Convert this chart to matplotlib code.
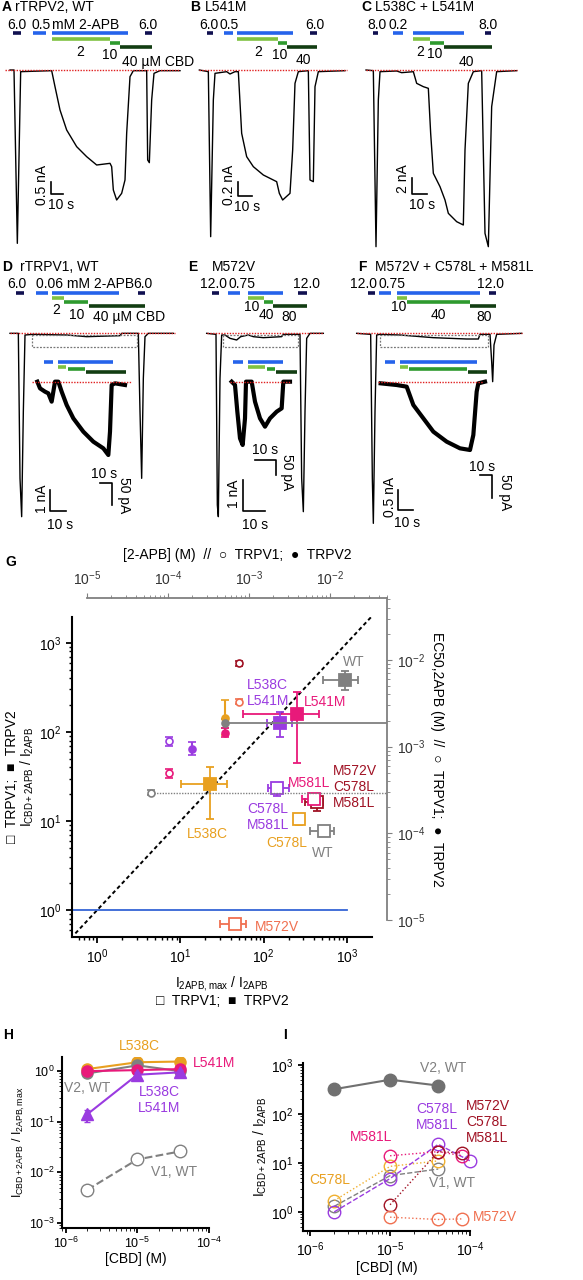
import numpy as np
import matplotlib
matplotlib.use('Agg')
import matplotlib.pyplot as plt

plt.rcParams['font.family'] = ['Liberation Sans', 'DejaVu Sans']
plt.rcParams['mathtext.fontset'] = 'custom'
plt.rcParams['mathtext.rm'] = 'Liberation Sans'
plt.rcParams['mathtext.it'] = 'Liberation Sans'

NAVY, BLUE, LG, MG, DG = '#101050', '#2563EB', '#7FC241', '#2E9A2E', '#123D12'
GRAY, ORA, PINK, PUR, DRED, SAL = '#808080', '#E8A020', '#E8197A', '#9A3BE0', '#A01224', '#F07050'

# ---------------- trace data (panel pixel units of the recording) ----------------
trA = [(30,210),(42,210),(52,730),(62,215),(155,212),(165,260),(180,330),(200,390),(230,440),(260,470),(290,495),(330,490),(335,500),(340,570),(350,600),(365,580),(375,540),(380,400),(390,230),(400,212),(440,212),(443,480),(448,488),(455,300),(462,220),(480,212),(540,212)]
trB = [(598,210),(625,215),(632,710),(640,300),(645,220),(680,215),(690,222),(705,215),(715,215),(725,400),(740,470),(760,500),(790,525),(830,545),(838,580),(848,600),(870,580),(878,450),(885,250),(895,215),(925,212),(930,540),(940,545),(945,260),(955,215),(1035,212)]
trC = [(1098,210),(1120,212),(1128,740),(1135,300),(1140,215),(1190,213),(1205,218),(1240,215),(1250,250),(1270,260),(1285,265),(1292,400),(1300,520),(1320,560),(1335,600),(1345,640),(1370,665),(1390,675),(1395,450),(1405,250),(1420,215),(1445,212),(1455,700),(1465,740),(1475,320),(1490,215),(1550,212)]
trD = [(30,265),(55,265),(60,700),(65,815),(70,500),(75,270),(100,268),(200,270),(260,275),(360,272),(365,265),(415,265),(420,500),(425,700),(430,400),(435,275),(445,265),(520,265)]
trDi = [(112,410),(120,430),(135,440),(145,445),(155,470),(165,410),(175,410),(185,440),(200,480),(220,520),(250,560),(280,590),(310,610),(325,630),(330,560),(335,420),(345,415),(375,420)]
trE = [(620,265),(648,268),(652,780),(655,815),(660,400),(665,270),(675,270),(690,280),(710,285),(722,275),(745,270),(760,275),(790,278),(845,275),(850,268),(900,268),(905,700),(910,800),(915,500),(920,280),(930,265),(970,265)]
trEi = [(695,410),(705,420),(712,500),(720,580),(728,600),(735,520),(738,410),(755,410),(765,470),(780,520),(795,545),(810,520),(830,500),(845,490),(850,410),(870,410)]
trF = [(1070,265),(1112,268),(1117,700),(1120,835),(1125,500),(1130,270),(1140,268),(1200,270),(1300,278),(1400,282),(1435,282),(1440,268),(1470,268),(1475,350),(1478,410),(1482,300),(1490,268),(1565,265)]
trFi = [(1142,415),(1190,420),(1220,425),(1240,480),(1270,520),(1300,560),(1340,590),(1380,610),(1410,615),(1420,570),(1430,440),(1435,415),(1455,410)]

# application bars: (x0, x1, y, colour)
barsA = [(40,62,100,NAVY),(435,455,100,NAVY),(98,138,100,BLUE),(155,383,100,BLUE),(155,330,118,LG),(330,360,128,MG),(360,455,140,DG)]
barsB = [(620,640,100,NAVY),(930,950,100,NAVY),(672,700,100,BLUE),(712,878,100,BLUE),(712,835,118,LG),(835,860,128,MG),(860,950,140,DG)]
barsC = [(1118,1135,100,NAVY),(1455,1472,100,NAVY),(1180,1208,100,BLUE),(1240,1392,100,BLUE),(1240,1290,118,LG),(1290,1333,128,MG),(1333,1475,140,DG)]
barsD = [(48,72,143,NAVY),(415,435,143,NAVY),(108,145,143,BLUE),(155,357,143,BLUE),(155,192,158,LG),(192,265,170,MG),(268,435,183,DG),
         (132,158,352,BLUE),(175,338,352,BLUE),(175,198,366,LG),(205,255,373,MG),(258,378,381,DG)]
barsE = [(635,658,143,NAVY),(895,922,143,NAVY),(685,720,143,BLUE),(745,848,143,BLUE),(745,792,158,LG),(792,820,170,MG),(820,922,183,DG),
         (700,730,352,BLUE),(745,848,352,BLUE),(745,795,366,LG),(800,825,373,MG),(828,890,381,DG)]
barsF = [(1105,1125,143,NAVY),(1468,1488,143,NAVY),(1138,1172,143,BLUE),(1190,1440,143,BLUE),(1190,1220,158,LG),(1222,1410,170,MG),(1410,1488,183,DG),
         (1155,1185,352,BLUE),(1200,1430,352,BLUE),(1200,1225,366,LG),(1228,1400,373,MG),(1405,1460,381,DG)]

fig = plt.figure(figsize=(5.83, 12.8), dpi=100)
ov = fig.add_axes([0, 0, 1, 1])
ov.set_xlim(0, 583); ov.set_ylim(1280, 0); ov.axis('off')

def P(pts, oy):
    return [p[0]/3 for p in pts], [oy + p[1]/3 for p in pts]

def trace(pts, oy, lw=1.0):
    x, y = P(pts, oy); ov.plot(x, y, color='black', lw=lw)

def bars(bl, oy):
    for x0, x1, y, c in bl:
        ov.plot([x0/3, x1/3], [oy+y/3]*2, color=c, lw=2.6, solid_capstyle='butt')

def base(x0, x1, y, oy):
    ov.plot([x0/3, x1/3], [oy+y/3]*2, color='#E02020', lw=1.0, ls=(0, (1, 1)))

def txt(s, x, y, oy, **kw):
    kw.setdefault('fontsize', 10)
    ov.text(x/3, oy+y/3, s, **kw)

def scalebar(xv, y0, y1, xh, oy, lw=1.2):
    ov.plot([xv/3, xv/3, xh/3], [oy+y0/3, oy+y1/3, oy+y1/3], color='black', lw=lw)

# Row 1
for tr in (trA, trB, trC): trace(tr, 0)
for b in (barsA, barsB, barsC): bars(b, 0)
base(15, 540, 210, 0); base(598, 1040, 210, 0); base(1098, 1550, 210, 0)
c = dict(ha='center', va='center')
for s, x in (('6.0',50),('6.0',443),('6.0',628),('0.5',688),('6.0',945),('8.0',1130),('0.2',1195),('8.0',1465)):
    txt(s, x, 75, 0, **c)
txt('mM 2-APB', 155, 75, 0, ha='left', va='center')
txt('0.5', 123, 75, 0, **c)
for s, x, y in (('2',240,155),('10',330,165),('2',775,155),('10',838,165),('40',910,180),('2',1262,155),('10',1305,162),('40',1400,185)):
    txt(s, x, y, 0, **c)
txt('40 µM CBD', 365, 185, 0, ha='left', va='center')
txt('A', 5, 22, 0, fontweight='bold', va='center'); txt('rTRPV2, WT', 45, 22, 0, va='center')
txt('B', 570, 22, 0, fontweight='bold', va='center'); txt('L541M', 615, 22, 0, va='center')
txt('C', 1085, 22, 0, fontweight='bold', va='center'); txt('L538C + L541M', 1125, 22, 0, va='center')
scalebar(152, 545, 582, 190, 0); txt('0.5 nA', 125, 555, 0, rotation=90, **c); txt('10 s', 182, 615, 0, **c)
scalebar(715, 545, 588, 755, 0); txt('0.2 nA', 688, 555, 0, rotation=90, **c); txt('10 s', 740, 620, 0, **c)
scalebar(1235, 535, 582, 1282, 0); txt('2 nA', 1208, 535, 0, rotation=90, **c); txt('10 s', 1265, 615, 0, **c)

# Row 2
o2 = 245
for tr in (trD, trE, trF): trace(tr, o2)
for tr in (trDi, trEi, trFi): trace(tr, o2, lw=3.0)
for b in (barsD, barsE, barsF): bars(b, o2)
base(30, 525, 265, o2); base(620, 970, 265, o2); base(1070, 1565, 265, o2)
base(95, 395, 410, o2); base(690, 870, 410, o2); base(1135, 1450, 410, o2)
for x0, x1 in ((97,410),(670,895),(1140,1465)):
    ov.plot([x0/3, x1/3, x1/3, x0/3, x0/3], [o2+270/3, o2+270/3, o2+305/3, o2+305/3, o2+270/3], color='#777777', lw=0.9, ls=(0, (1.5, 1.2)))
for s, x in (('6.0',52),('6.0',428),('12.0',640),('0.75',725),('12.0',918),('12.0',1090),('0.75',1175),('12.0',1470)):
    txt(s, x, 118, o2, **c)
txt('0.06 mM 2-APB', 108, 118, o2, ha='left', va='center')
for s, x, y in (('2',170,195),('10',230,210),('10',755,185),('40',800,210),('80',868,215),('10',1195,185),('40',1315,210),('80',1452,215)):
    txt(s, x, y, o2, **c)
txt('40 µM CBD', 280, 215, o2, ha='left', va='center')
txt('D', 5, 65, o2, fontweight='bold', va='center'); txt('rTRPV1, WT', 60, 65, o2, va='center')
txt('E', 565, 65, o2, fontweight='bold', va='center'); txt('M572V', 635, 65, o2, va='center')
txt('F', 1075, 65, o2, fontweight='bold', va='center'); txt('M572V + C578L + M581L', 1125, 65, o2, va='center')
# scale bars row2
ov.plot([300/3, 335/3, 335/3], [o2+715/3, o2+715/3, o2+780/3], color='black', lw=1.2)
txt('10 s', 313, 688, o2, **c); txt('50 pA', 372, 750, o2, rotation=-90, **c)
scalebar(150, 735, 797, 197, o2); txt('1 nA', 125, 760, o2, rotation=90, **c); txt('10 s', 180, 840, o2, **c)
ov.plot([765/3, 828/3, 828/3], [o2+645/3, o2+645/3, o2+690/3], color='black', lw=1.2)
txt('10 s', 795, 615, o2, **c); txt('50 pA', 860, 680, o2, rotation=-90, **c)
scalebar(728, 705, 797, 795, o2); txt('1 nA', 703, 745, o2, rotation=90, **c); txt('10 s', 765, 840, o2, **c)
ov.plot([1440/3, 1475/3, 1475/3], [o2+690/3, o2+690/3, o2+760/3], color='black', lw=1.2)
txt('10 s', 1445, 665, o2, **c); txt('50 pA', 1515, 740, o2, rotation=-90, **c)
scalebar(1195, 735, 795, 1238, o2); txt('0.5 nA', 1170, 755, o2, rotation=90, **c); txt('10 s', 1220, 835, o2, **c)

# ---------------- Panel G data ----------------
sq_x   = [950, 253, 155, 23, 146, 436, 398, 268, 527, 45]
sq_xlo = [513, 56, 110, 10.2, 112, 310, 290, 240, 360, 30]
sq_xhi = [1350, 457, 219, 36, 200, 520, 460, 300, 700, 62]
sq_y   = [380, 159, 125, 26, 23.6, 16.2, 17.8, 10.5, 7.7, 0.70]
sq_ylo = [295, 45, 87, 10.5, 19, 13, 15, 9.0, 7.0, 0.66]
sq_yhi = [480, 282, 166, 40, 27, 18.5, 20, 12, 8.6, 0.74]
sq_c   = [GRAY, PINK, PUR, ORA, PUR, DRED, PINK, ORA, GRAY, SAL]
sq_f   = [True, True, True, True, False, False, False, False, False, False]
ci_x = [7.6e-4, 7.6e-4, 1.02e-4, 1.02e-4, 6.2e-5, 2.0e-4, 5.1e-4, 5.1e-4, 5.1e-4]
ci_y = [9.1e-3, 3.3e-3, 1.15e-3, 4.9e-4, 2.95e-4, 9.5e-4, 2.15e-3, 1.86e-3, 1.45e-3]
ci_e = [0.03, 0.03, 0.05, 0.05, 0.03, 0.07, 0.2, 0.05, 0.05]
ci_c = [DRED, SAL, PUR, PINK, GRAY, PUR, ORA, GRAY, PINK]
ci_f = [False, False, False, False, False, True, True, True, True]

def fpos(x0, y0, x1, y1):
    return [x0/583, 1 - y1/1280, (x1-x0)/583, (y1-y0)/1280]

axG = fig.add_axes(fpos(72, 617, 372, 937))
axG.set_xscale('log'); axG.set_yscale('log')
axG.set_xlim(10**-0.3, 10**3.3); axG.set_ylim(10**-0.3, 10**3.29)
axG.patch.set_alpha(0)
for s in ('top', 'right'): axG.spines[s].set_visible(False)
for s in ('left', 'bottom'): axG.spines[s].set_linewidth(1.5)
axG.tick_params(labelsize=10, width=1.3, length=4)
axG.tick_params(which='minor', width=1, length=2.5)
axG.plot([0.55, 2000], [0.55, 2000], ls=(0, (2, 1.5)), color='black', lw=1.4)
axG.plot([10**-0.3, 1000], [1, 1], color='#3565D6', lw=1.3)
for i in range(len(sq_x)):
    axG.errorbar(sq_x[i], sq_y[i], xerr=[[sq_x[i]-sq_xlo[i]], [sq_xhi[i]-sq_x[i]]],
                 yerr=[[sq_y[i]-sq_ylo[i]], [sq_yhi[i]-sq_y[i]]], fmt='s', ms=8,
                 mfc=sq_c[i] if sq_f[i] else 'white', mec=sq_c[i], ecolor=sq_c[i],
                 mew=1.3, elinewidth=1.3, capsize=3, zorder=4)
G_labels = [('WT', 10**3.08, 10**2.79, GRAY, 'center'), ('L538C\nL541M', 10**2.05, 10**2.44, PUR, 'center'),
            ('L541M', 10**2.74, 10**2.34, PINK, 'center'), ('M572V\nC578L\nM581L', 10**2.83, 10**1.38, DRED, 'left'),
            ('M581L', 10**2.55, 10**1.43, PINK, 'center'), ('C578L\nM581L', 10**2.05, 10**1.05, PUR, 'center'),
            ('L538C', 10**1.32, 10**0.85, ORA, 'center'), ('C578L', 10**2.28, 10**0.75, ORA, 'center'),
            ('WT', 10**2.71, 10**0.64, GRAY, 'center'), ('M572V', 10**1.9, 10**-0.19, SAL, 'left')]
for s, x, y, col, ha in G_labels:
    axG.text(x, y, s, color=col, ha=ha, va='center', fontsize=10, linespacing=1.2, zorder=6)
axG.set_xlabel('$I_{\\rm 2APB,max}$ / $I_{\\rm 2APB}$\n\u25a1  TRPV1;  \u25a0  TRPV2', fontsize=10, labelpad=6, linespacing=1.1)
axG.set_ylabel('\u25a1  TRPV1;  \u25a0  TRPV2\n$I_{\\rm CBD+2APB}$ / $I_{\\rm 2APB}$', fontsize=10, labelpad=2, linespacing=1.0)

axE = fig.add_axes(fpos(87, 598, 387, 920))
axE.set_xscale('log'); axE.set_yscale('log')
axE.set_xlim(1e-5, 10**(-5 + 300/81)); axE.set_ylim(1e-5, 10**(-5 + 322/86.7))
axE.patch.set_alpha(0)
axE.xaxis.tick_top(); axE.yaxis.tick_right()
axE.xaxis.set_label_position('top'); axE.yaxis.set_label_position('right')
for s in ('bottom', 'left'): axE.spines[s].set_visible(False)
for s in ('top', 'right'): axE.spines[s].set_color(GRAY); axE.spines[s].set_linewidth(1.3)
axE.tick_params(which='both', colors=GRAY, labelcolor='#333333', labelsize=10)
axE.tick_params(which='minor', length=2.5)
axE.plot([ci_x[7], axE.get_xlim()[1]], [ci_y[7]]*2, color=GRAY, lw=1.3, zorder=2)
axE.plot([ci_x[4], axE.get_xlim()[1]], [ci_y[4]]*2, color=GRAY, lw=1.0, ls=(0, (1, 1)), zorder=2)
for i in range(len(ci_x)):
    e = ci_e[i]
    axE.errorbar(ci_x[i], ci_y[i], yerr=[[ci_y[i]*(1-10**-e)], [ci_y[i]*(10**e-1)]], fmt='o', ms=5,
                 mfc=ci_c[i] if ci_f[i] else 'white', mec=ci_c[i], ecolor=ci_c[i], mew=1.2, capsize=3, zorder=3)
axE.set_xlabel('[2-APB] (M)  //  \u25cb  TRPV1;  \u25cf  TRPV2', fontsize=10, labelpad=8)
axE.set_ylabel('EC50,2APB (M)  //  \u25cb  TRPV1;  \u25cf  TRPV2', fontsize=10, rotation=-90, labelpad=14)
ov.text(5, 562, 'G', fontweight='bold', fontsize=10, va='center')

# ---------------- Panel H ----------------
cbd = [2e-6, 1e-5, 4e-5]
H_v1wt = [0.0045, 0.018, 0.026]
H_ora = [1.1, 1.5, 1.55]
H_gray = [0.9, 1.3, 1.0]
H_pink = [1.0, 1.05, 1.1]
H_pur = [0.14, 0.85, 0.95]
axH = fig.add_axes(fpos(62, 1057, 209, 1228))
axH.set_xscale('log'); axH.set_yscale('log')
axH.set_xlim(10**-6.05, 1e-4); axH.set_ylim(10**-3.1, 10**0.28)
for s in ('top', 'right'): axH.spines[s].set_visible(False)
for s in ('left', 'bottom'): axH.spines[s].set_linewidth(1.5)
axH.tick_params(labelsize=9, width=1.3, pad=2)
axH.errorbar(cbd, H_v1wt, yerr=[[0.0009, 0.002, 0.004], [0.0005, 0.002, 0.004]], color=GRAY, ls='--', marker='o', ms=9, mfc='white', capsize=2)
for ys, col in ((H_ora, ORA), (H_gray, GRAY), (H_pink, PINK)):
    axH.plot(cbd, ys, color=col, marker='o', ms=8, lw=1.5)
axH.errorbar(cbd, H_pur, yerr=[[0.04, 0.1, 0.1], [0.03, 0.1, 0.1]], color=PUR, marker='^', ms=8, lw=1.5, capsize=2)
for s, x, y, col, ha in (('L538C', 10**-4.97, 10**0.49, ORA, 'center'), ('L541M', 10**-4.23, 10**0.16, PINK, 'left'),
                         ('V2, WT', 10**-5.7, 10**-0.34, GRAY, 'center'), ('L538C\nL541M', 10**-4.69, 10**-0.57, PUR, 'center'),
                         ('V1, WT', 10**-4.49, 10**-1.99, GRAY, 'center')):
    axH.text(x, y, s, color=col, ha=ha, va='center', fontsize=10, clip_on=False)
axH.set_xlabel('[CBD] (M)', fontsize=10, labelpad=1)
axH.set_ylabel('$I_{\\rm CBD+2APB}$ / $I_{\\rm 2APB,max}$', fontsize=9)
axH.yaxis.set_label_coords(-0.24, 0.5)
ov.text(3, 1035, 'H', fontweight='bold', fontsize=10, va='center')

# ---------------- Panel I ----------------
I_v2wt = [320, 500, 380]
I_v1wt = [1.3, 5.5, 7.5]
I_ora = [1.7, 8.5, 11]
cbd_pur = [2e-6, 1e-5, 4e-5, 1e-4]; I_pur = [1.0, 4.8, 24, 11]
cbd_hi = [1e-5, 4e-5, 8e-5]
I_pink = [14, 17, 14]
I_dred = [1.4, 17, 16]
I_sal = [0.78, 0.7, 0.72]
axI = fig.add_axes(fpos(303, 1063, 470, 1231))
axI.set_xscale('log'); axI.set_yscale('log')
axI.set_xlim(10**-6.09, 1e-4); axI.set_ylim(10**-0.39, 10**3.04)
for s in ('top', 'right'): axI.spines[s].set_visible(False)
for s in ('left', 'bottom'): axI.spines[s].set_linewidth(1.5)
axI.tick_params(labelsize=10, width=1.3)
axI.plot(cbd, I_v2wt, color='#707070', marker='o', ms=9, lw=1.5)
oc = dict(marker='o', ms=9, mfc='none', lw=1.0, clip_on=False)
axI.plot(cbd, I_v1wt, color=GRAY, ls='--', **oc)
axI.plot(cbd, I_ora, color='#F0B030', ls=':', **oc)
axI.plot(cbd_pur, I_pur, color=PUR, ls='--', **oc)
axI.plot(cbd_hi, I_pink, color=PINK, ls=':', **oc)
axI.plot(cbd_hi, I_dred, color=DRED, ls=':', **oc)
axI.plot(cbd_hi, I_sal, color=SAL, ls=':', **oc)
for s, x, y, col, ha in (('V2, WT', 10**-4.34, 10**2.94, GRAY, 'center'), ('C578L\nM581L', 10**-4.41, 10**1.94, PUR, 'center'),
                         ('M572V\nC578L\nM581L', 10**-4.05, 10**1.84, DRED, 'left'), ('M581L', 10**-5.24, 10**1.53, PINK, 'center'),
                         ('C578L', 10**-5.75, 10**0.65, ORA, 'center'), ('V1, WT', 10**-4.23, 10**0.59, GRAY, 'center'),
                         ('M572V', 10**-3.96, 10**-0.1, SAL, 'left')):
    axI.text(x, y, s, color=col, ha=ha, va='center', fontsize=10, clip_on=False, linespacing=1.2)
axI.set_xlabel('[CBD] (M)', fontsize=10, labelpad=1)
axI.set_ylabel('$I_{\\rm CBD+2APB}$ / $I_{\\rm 2APB}$', fontsize=10, labelpad=1)
ov.text(283, 1035, 'I', fontweight='bold', fontsize=10, va='center')

fig.savefig('out.png', dpi=100)
